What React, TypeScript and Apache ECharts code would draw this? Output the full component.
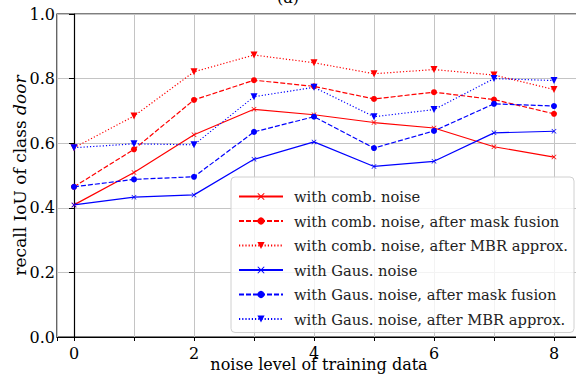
import React, { useEffect, useRef } from "react";
import * as echarts from "echarts";

const noiseLevels = [0, 1, 2, 3, 4, 5, 6, 7, 8];
const combNoise = [0.409, 0.509, 0.626, 0.705, 0.688, 0.664, 0.647, 0.589, 0.557];
const combMask = [0.465, 0.581, 0.734, 0.795, 0.776, 0.737, 0.758, 0.735, 0.691];
const combMbr = [0.586, 0.684, 0.821, 0.873, 0.849, 0.815, 0.828, 0.811, 0.766];
const gausNoise = [0.409, 0.433, 0.44, 0.55, 0.604, 0.528, 0.544, 0.632, 0.637];
const gausMask = [0.465, 0.488, 0.496, 0.635, 0.682, 0.585, 0.638, 0.722, 0.715];
const gausMbr = [0.586, 0.598, 0.595, 0.744, 0.773, 0.682, 0.704, 0.8, 0.794];
const yTicks = [0, 0.2, 0.4, 0.6, 0.8, 1.0];

const FONT = "DejaVu Serif";
const X_SYMBOL = "path://M0,1L1,0L5,4L9,0L10,1L6,5L10,9L9,10L5,6L1,10L0,9L4,5Z";

export default function App() {
  const ref = useRef<HTMLDivElement>(null);
  useEffect(() => {
    if (!ref.current) return;
    const chart = echarts.init(ref.current, null, { renderer: "svg" });
    const mk = (
      name: string,
      vals: number[],
      color: string,
      lineType: any,
      symbol: string,
      symbolSize: number,
      rotate = 0
    ) => ({
      name,
      type: "line",
      data: noiseLevels.map((x, i) => [x, vals[i]]),
      symbol,
      symbolSize,
      symbolRotate: rotate,
      showSymbol: true,
      lineStyle: { color, width: 1.2, type: lineType },
      itemStyle: { color, borderWidth: 0 },
      z: 3,
    });
    chart.setOption({
      animation: false,
      title: {
        text: "(a)",
        left: "center",
        top: -16,
        textStyle: { fontFamily: FONT, fontSize: 16, fontWeight: "normal", color: "#000" },
      },
      grid: {
        left: 57,
        top: 14,
        right: -5,
        bottom: 37,
        outerBoundsMode: "none",
        containLabel: false,
        show: true,
        borderColor: "#000",
        borderWidth: 1.2,
        backgroundColor: "transparent",
      },
      legend: {
        orient: "vertical",
        left: 231,
        top: 177,
        itemWidth: 44,
        itemHeight: 9,
        itemGap: 9.5,
        padding: [12, 6, 6, 7],
        backgroundColor: "rgba(255,255,255,0.8)",
        borderColor: "#d0d0d0",
        borderWidth: 1,
        borderRadius: 4,
        textStyle: { fontFamily: FONT, fontSize: 14.7, color: "#222", padding: [0, 0, 0, 6] },
        data: [
          "with comb. noise",
          "with comb. noise, after mask fusion",
          "with comb. noise, after MBR approx.",
          "with Gaus. noise",
          "with Gaus. noise, after mask fusion",
          "with Gaus. noise, after MBR approx.",
        ],
      },
      xAxis: {
        type: "value",
        min: -0.2833,
        max: 8.45,
        splitNumber: 9,
        minInterval: 1,
        maxInterval: 1,
        name: "noise level of training data",
        nameLocation: "middle",
        nameGap: 19,
        nameMoveOverlap: false,
        nameTextStyle: { fontFamily: FONT, fontSize: 16, color: "#000" },
        axisLine: { show: true, onZero: false, lineStyle: { color: "#000", width: 1.2 } },
        axisTick: { show: true, length: 4, lineStyle: { color: "#000" } },
        axisLabel: {
          fontFamily: FONT,
          fontSize: 16,
          color: "#000",
          margin: 8,
          showMinLabel: true,
          showMaxLabel: true,
          hideOverlap: false,
          formatter: (v: number) => (Math.abs(v - Math.round(v)) < 1e-6 && Math.round(v) % 2 === 0 ? String(Math.round(v)) : ""),
        },
        splitLine: { show: true, lineStyle: { color: "#c4c4c4", width: 1 } },
      },
      yAxis: {
        type: "value",
        min: yTicks[0],
        max: yTicks[yTicks.length - 1],
        interval: 0.2,
        name: "{a|recall IoU of class }{b|door}",
        nameLocation: "middle",
        nameGap: 29,
        nameMoveOverlap: false,
        nameRotate: 90,
        nameTextStyle: {
          fontFamily: FONT,
          fontSize: 17,
          color: "#000",
          rich: {
            a: { fontFamily: FONT, fontSize: 17, color: "#000" },
            b: { fontFamily: FONT, fontSize: 17, color: "#000", fontStyle: "italic" },
          },
        },
        axisLine: { show: true, lineStyle: { color: "#000", width: 1.2 } },
        axisTick: { show: true, length: 5, lineStyle: { color: "#000" } },
        axisLabel: {
          fontFamily: FONT,
          fontSize: 16,
          color: "#000",
          margin: 2,
          formatter: (v: number) => v.toFixed(1),
        },
        splitLine: { show: true, lineStyle: { color: "#c4c4c4", width: 1 } },
      },
      series: [
        mk("with comb. noise", combNoise, "#ff0000", "solid", X_SYMBOL, 5),
        mk("with comb. noise, after mask fusion", combMask, "#ff0000", [5, 2], "circle", 6),
        mk("with comb. noise, after MBR approx.", combMbr, "#ff0000", [1.2, 2], "triangle", 7, 180),
        mk("with Gaus. noise", gausNoise, "#0000ff", "solid", X_SYMBOL, 5),
        mk("with Gaus. noise, after mask fusion", gausMask, "#0000ff", [5, 2], "circle", 6),
        mk("with Gaus. noise, after MBR approx.", gausMbr, "#0000ff", [1.2, 2], "triangle", 7, 180),
      ],
    });
    return () => chart.dispose();
  }, []);
  return (
    <div
      ref={ref}
      style={{ position: "fixed", left: 0, top: 0, width: 576, height: 374, background: "#fff" }}
    />
  );
}
